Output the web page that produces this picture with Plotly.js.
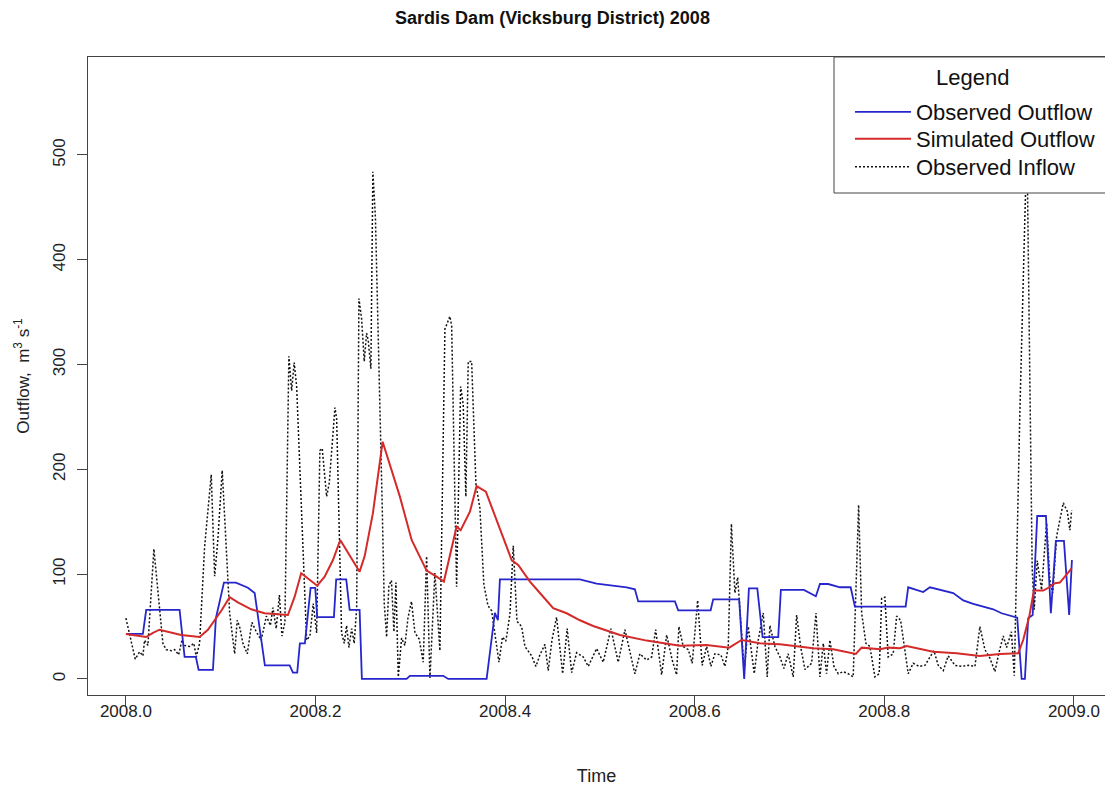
<!DOCTYPE html>
<html>
<head>
<meta charset="utf-8">
<script src="https://cdn.plot.ly/plotly-3.0.1.min.js"></script>
<style>html,body{margin:0;padding:0;background:#fff;overflow:hidden}#chart{width:1105px;height:786px}</style>
</head>
<body>
<div id="chart"></div>
<script>
// ---- Data ----
const outflowTime = [2008.0000,2008.0179,2008.0214,2008.0566,2008.0619,2008.0738,2008.0767,2008.0918,2008.0949,2008.1034,2008.1160,2008.1287,2008.1358,2008.1466,2008.1727,2008.1762,2008.1807,2008.1835,2008.1888,2008.1948,2008.1997,2008.2018,2008.2194,2008.2218,2008.2324,2008.2360,2008.2465,2008.2489,2008.2961,2008.2996,2008.3347,2008.3400,2008.3805,2008.3892,2008.3924,2008.3945,2008.4789,2008.4965,2008.5282,2008.5369,2008.5404,2008.5791,2008.5826,2008.6168,2008.6195,2008.6469,2008.6522,2008.6572,2008.6660,2008.6716,2008.6881,2008.6909,2008.7152,2008.7278,2008.7321,2008.7408,2008.7532,2008.7645,2008.7690,2008.8225,2008.8252,2008.8410,2008.8481,2008.8727,2008.8833,2008.8938,2008.9149,2008.9237,2008.9402,2008.9449,2008.9483,2008.9518,2008.9565,2008.9613,2008.9705,2008.9757,2008.9810,2008.9895,2008.9950,2008.9979];
const observedOutflow = [43,43,66,66,21,21,8.6,8.6,58,92,92,87,82,13,13,6,6,34,34,87,87,59,59,95,95,66,66,0,0,3,3,0,0,63,56,95,95,91,87.5,85.6,74,74,65.5,65.5,76,76,0,86.5,86.5,40,40,85,85,79,90.6,90.6,87.5,87.5,69,69,87.5,83,87.5,82,75,71.6,66.5,62.7,58.5,0,0,58,61,155.5,155.5,62.7,131.7,131.7,61,113.5];

const simTime = [2008.0000,2008.0214,2008.0285,2008.0355,2008.0583,2008.0777,2008.0865,2008.0953,2008.1013,2008.1094,2008.1181,2008.1322,2008.1463,2008.1709,2008.1780,2008.1849,2008.2018,2008.2096,2008.2184,2008.2261,2008.2360,2008.2465,2008.2518,2008.2605,2008.2708,2008.2803,2008.2890,2008.3014,2008.3172,2008.3277,2008.3354,2008.3488,2008.3531,2008.3629,2008.3699,2008.3797,2008.3910,2008.4069,2008.4138,2008.4262,2008.4367,2008.4507,2008.4649,2008.4789,2008.4929,2008.5211,2008.5493,2008.5844,2008.6126,2008.6364,2008.6495,2008.6688,2008.6899,2008.7250,2008.7461,2008.7700,2008.7761,2008.7954,2008.8041,2008.8165,2008.8235,2008.8516,2008.8763,2008.9008,2008.9219,2008.9412,2008.9465,2008.9529,2008.9578,2008.9676,2008.9740,2008.9800,2008.9852,2008.9976];
const simulatedOutflow = [43,40,44,47,42,40,47,58,66,78,73,66.5,62.7,61,78.5,101,89,97.6,113.5,132.6,118,102.4,117,158,226.4,199.4,174,132.6,103.4,97.6,93,145.3,142,159.6,184,178.7,151.7,113.5,108.8,92.9,82,67.5,62.7,56,50.6,42,36.6,31.8,32.4,29.9,37.2,34,33.1,29.3,28.3,23.9,29.9,28.3,29.9,29.3,31.5,26,24.5,22,23.9,24.5,37.2,59.5,84.3,84.3,87.5,91.3,92,105.6];

const inflowTime = [2008.0000,2008.0042,2008.0098,2008.0145,2008.0179,2008.0197,2008.0232,2008.0295,2008.0345,2008.0390,2008.0425,2008.0478,2008.0514,2008.0556,2008.0591,2008.0619,2008.0672,2008.0717,2008.0742,2008.0777,2008.0830,2008.0900,2008.0936,2008.0970,2008.1016,2008.1047,2008.1094,2008.1147,2008.1174,2008.1199,2008.1234,2008.1280,2008.1329,2008.1375,2008.1427,2008.1482,2008.1524,2008.1551,2008.1585,2008.1619,2008.1646,2008.1677,2008.1719,2008.1748,2008.1775,2008.1801,2008.1906,2008.1941,2008.1976,2008.2012,2008.2046,2008.2071,2008.2117,2008.2145,2008.2170,2008.2205,2008.2223,2008.2275,2008.2303,2008.2328,2008.2352,2008.2381,2008.2408,2008.2434,2008.2458,2008.2486,2008.2514,2008.2539,2008.2556,2008.2584,2008.2605,2008.2632,2008.2704,2008.2725,2008.2750,2008.2774,2008.2801,2008.2827,2008.2848,2008.2873,2008.2908,2008.2943,2008.2975,2008.3012,2008.3049,2008.3094,2008.3136,2008.3172,2008.3207,2008.3259,2008.3312,2008.3365,2008.3418,2008.3436,2008.3488,2008.3531,2008.3558,2008.3586,2008.3611,2008.3647,2008.3692,2008.3734,2008.3776,2008.3819,2008.3858,2008.3892,2008.3935,2008.3972,2008.4008,2008.4051,2008.4086,2008.4125,2008.4174,2008.4209,2008.4280,2008.4325,2008.4367,2008.4420,2008.4455,2008.4494,2008.4543,2008.4607,2008.4655,2008.4702,2008.4754,2008.4824,2008.4877,2008.4965,2008.5035,2008.5116,2008.5193,2008.5264,2008.5327,2008.5369,2008.5422,2008.5493,2008.5546,2008.5588,2008.5651,2008.5704,2008.5763,2008.5809,2008.5833,2008.5879,2008.5932,2008.5974,2008.6031,2008.6079,2008.6126,2008.6171,2008.6213,2008.6276,2008.6319,2008.6354,2008.6387,2008.6424,2008.6453,2008.6495,2008.6522,2008.6565,2008.6600,2008.6628,2008.6670,2008.6723,2008.6765,2008.6793,2008.6846,2008.6899,2008.6941,2008.6986,2008.7039,2008.7075,2008.7117,2008.7163,2008.7233,2008.7279,2008.7321,2008.7356,2008.7391,2008.7426,2008.7469,2008.7514,2008.7567,2008.7619,2008.7672,2008.7729,2008.7761,2008.7806,2008.7848,2008.7901,2008.7946,2008.7972,2008.8006,2008.8041,2008.8094,2008.8130,2008.8172,2008.8207,2008.8252,2008.8305,2008.8368,2008.8429,2008.8481,2008.8523,2008.8569,2008.8622,2008.8674,2008.8745,2008.8816,2008.8885,2008.8956,2008.9008,2008.9061,2008.9114,2008.9167,2008.9209,2008.9255,2008.9290,2008.9341,2008.9371,2008.9430,2008.9504,2008.9560,2008.9581,2008.9613,2008.9659,2008.9712,2008.9747,2008.9776,2008.9818,2008.9852,2008.9888,2008.9930,2008.9958,2008.9976];
const observedInflow = [58,40,19,26,22,37,32,124,78,34,28,27,28,23,37,32,31,34,21,34,126,195,98,133,199,142,63,24,56,50,34,24,54,45,37,60,51,68,48,80,41,54,308,275,302,279,37,41,72,44,218,220,174,187,215,259,248,44,34,51,30,48,34,68,363,344,303,330,323,296,484,440,163,72,40,89,94,45,92,2,39,32,58,74,44,38,16,117,1,101,27,334,346,337,88,279,262,174,303,303,186,163,90,70,65,45,16,40,36,62,127,55,50,31,22,12,23,33,8,37,59,5,48,6,25,21,12,29,16,48,16,47,21,5,24,18,21,47,4,42,18,4,50,31,28,15,75,13,31,12,24,23,12,31,148,82,97,47,9,50,24,5,37,63,2,51,31,21,10,24,2,61,31,9,15,63,2,34,5,37,12,5,7,5,2,166,63,34,31,2,5,77,78,21,24,60,56,34,5,15,12,13,21,27,13,8,22,13,12,13,12,50,28,20,7,25,41,30,45,3,255,515,105,66,113,85,149,94,82,136,152,168,160,142,161];

const xTickValues = [2008.0, 2008.2, 2008.4, 2008.6, 2008.8, 2009.0];
const yTickValues = [0, 100, 200, 300, 400, 500];
const legendTitle = 'Legend';

// ---- Geometry helpers (pixel positions of the reference layout) ----
const W = 1105, H = 786, L = 88, T = 57, B = 695;
const PW = W - L, PH = B - T;
const px = x => (x - L) / PW;          // page px -> paper x
const py = y => (B - y) / PH;          // page px -> paper y

const FONT = 'Arial, "Liberation Sans", sans-serif';
const LEG_FONT = {family: FONT, size: 22, color: '#111'};

const traces = [
  {x: inflowTime, y: observedInflow, type: 'scatter', mode: 'lines', name: 'Observed Inflow',
   legend: 'legend3', line: {color: '#111111', width: 1.5, dash: '2px,2px'}},
  {x: outflowTime, y: observedOutflow, type: 'scatter', mode: 'lines', name: 'Observed Outflow',
   legend: 'legend', line: {color: '#2626cc', width: 1.8}},
  {x: simTime, y: simulatedOutflow, type: 'scatter', mode: 'lines', name: 'Simulated Outflow',
   legend: 'legend2', line: {color: '#d42a2a', width: 2}}
];

function legendAt(rowY) {
  return {x: px(850), xanchor: 'left', y: py(rowY - 21), yanchor: 'top',
          bgcolor: 'rgba(0,0,0,0)', borderwidth: 0, font: LEG_FONT, itemwidth: 56};
}

const layout = {
  width: W, height: H,
  margin: {l: L, r: 0, t: T, b: H - B, pad: 0},
  paper_bgcolor: '#ffffff', plot_bgcolor: '#ffffff',
  font: {family: FONT, color: '#222'},
  showlegend: true,
  title: {text: '<b>Sardis Dam (Vicksburg District) 2008</b>', font: {family: FONT, size: 18, color: '#111'},
          x: 0.5, xref: 'container', xanchor: 'center', y: 1 - 18 / H, yref: 'container', yanchor: 'middle'},
  xaxis: {range: [2007.96, 2009.0328], tickmode: 'array', tickvals: xTickValues,
          ticktext: xTickValues.map(v => v.toFixed(1)),
          ticks: 'outside', ticklen: 10, tickcolor: '#444', showline: true, mirror: true,
          linecolor: '#444', linewidth: 1, showgrid: false, zeroline: false,
          ticklabelstandoff: -9,
          tickfont: {family: FONT, size: 17, color: '#222'},
          title: {text: 'Time', font: {family: FONT, size: 18, color: '#222'}, standoff: 52}},
  yaxis: {range: [-15.3, 593.5], tickmode: 'array', tickvals: yTickValues, tickangle: -90,
          ticks: 'outside', ticklen: 10, tickcolor: '#444', showline: true, mirror: false,
          linecolor: '#444', linewidth: 1, showgrid: false, zeroline: false,
          ticklabelstandoff: 5,
          tickfont: {family: FONT, size: 17, color: '#222'},
          title: {text: 'Outflow,  m<sup>3</sup> s<sup>-1</sup>', font: {family: FONT, size: 17, color: '#222'}, standoff: 16}},
  legend: legendAt(112),
  legend2: legendAt(139),
  legend3: legendAt(167),
  shapes: [
    // legend frame (white box, drawn over the curves like R's legend)
    {type: 'rect', xref: 'paper', yref: 'paper', x0: px(834), x1: px(1125), y0: py(193), y1: 1,
     layer: 'above', fillcolor: '#ffffff', line: {color: '#444', width: 1}}
  ],
  annotations: [
    {text: legendTitle, xref: 'paper', yref: 'paper', x: px(972), y: py(77), xanchor: 'center', yanchor: 'middle',
     showarrow: false, font: LEG_FONT}
  ]
};

Plotly.newPlot('chart', traces, layout, {staticPlot: true, displayModeBar: false});
</script>
</body>
</html>
